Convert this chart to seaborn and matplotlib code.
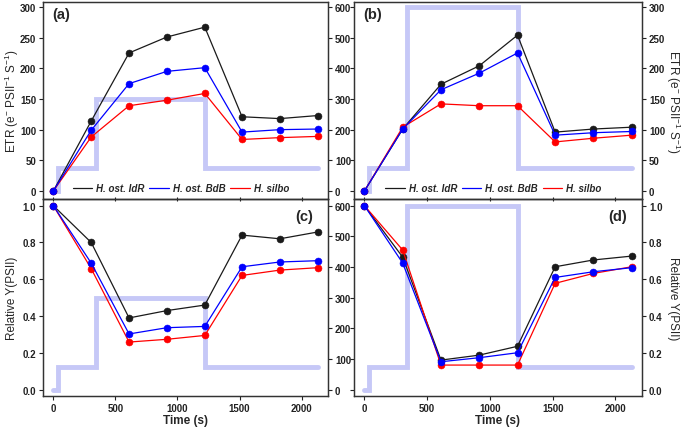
import matplotlib
matplotlib.use("Agg")
import matplotlib.pyplot as plt
from matplotlib.lines import Line2D
import seaborn as sns
import pandas as pd

# sampling times (s)
time = [0, 305, 610, 915, 1220, 1520, 1825, 2130]

# ETR, panels (a) and (b)
etr_a_idr = [0, 114, 225, 251, 267, 121, 118, 123]
etr_a_bdb = [0, 99, 175, 195, 201, 96, 100, 101]
etr_a_silbo = [0, 88, 139, 148, 159, 84, 87, 89]
etr_b_idr = [0, 101, 174, 204, 254, 96, 101, 104]
etr_b_bdb = [0, 101, 165, 192, 225, 91, 95, 97]
etr_b_silbo = [0, 104, 142, 139, 139, 80, 86, 91]

# relative Y(PSII), panels (c) and (d)
y_c_idr = [1.0, 0.80, 0.39, 0.43, 0.46, 0.84, 0.82, 0.857]
y_c_bdb = [1.0, 0.688, 0.303, 0.337, 0.344, 0.668, 0.694, 0.701]
y_c_silbo = [1.0, 0.658, 0.259, 0.274, 0.295, 0.621, 0.65, 0.663]
y_d_idr = [1.0, 0.72, 0.161, 0.188, 0.236, 0.668, 0.705, 0.726]
y_d_bdb = [1.0, 0.688, 0.152, 0.174, 0.201, 0.61, 0.641, 0.663]
y_d_silbo = [1.0, 0.759, 0.134, 0.134, 0.134, 0.578, 0.632, 0.668]

# light protocol (steps)
light_t = [0, 40, 340, 1225, 2130]
light_low = [0, 75, 300, 75, 75]
light_high = [0, 75, 600, 75, 75]

names = ["H. ost. IdR", "H. ost. BdB", "H. silbo"]
colors = {"H. ost. IdR": "#1a1a1a", "H. ost. BdB": "#0000ff", "H. silbo": "#ff0000"}
zorders = {"H. ost. IdR": 3, "H. ost. BdB": 5, "H. silbo": 4}

sns.set_style("ticks")
plt.rcParams['font.family'] = ['Liberation Sans', 'DejaVu Sans']
plt.rcParams['mathtext.fontset'] = 'custom'
plt.rcParams['mathtext.rm'] = 'Liberation Sans'

fig = plt.figure(figsize=(6.85, 4.31), dpi=100)

panels = [
    # label, rect, series, light, data side, is top
    ("(a)", [0.0628, 0.536, 0.416, 0.457], [etr_a_idr, etr_a_bdb, etr_a_silbo], light_low, "left", True),
    ("(b)", [0.5168, 0.536, 0.4204, 0.457], [etr_b_idr, etr_b_bdb, etr_b_silbo], light_high, "right", True),
    ("(c)", [0.0628, 0.0789, 0.416, 0.457], [y_c_idr, y_c_bdb, y_c_silbo], light_low, "left", False),
    ("(d)", [0.5168, 0.0789, 0.4204, 0.457], [y_d_idr, y_d_bdb, y_d_silbo], light_high, "right", False),
]

for label, rect, series, light, side, top in panels:
    ax = fig.add_axes(rect)
    lax = ax.twinx()
    ax.set_zorder(lax.get_zorder() + 1)
    ax.patch.set_visible(False)

    # data axis on the requested side
    if side == "right":
        ax.yaxis.tick_right()
        ax.yaxis.set_label_position("right")
        lax.yaxis.tick_left()
        lax.yaxis.set_label_position("left")

    # light steps
    lax.step(light_t, light, where="post", color="#c6c8f7", lw=3.5,
             solid_capstyle="round", solid_joinstyle="miter")
    lax.set_ylim(-26, 616) if top else lax.set_ylim(-20.5, 622)
    lax.set_yticks([0, 100, 200, 300, 400, 500, 600])

    df = pd.DataFrame({"time": time})
    for name, vals in zip(names, series):
        df[name] = vals
    long = df.melt(id_vars="time", var_name="species", value_name="val")
    for name in names:
        sub = long[long["species"] == name]
        sns.lineplot(data=sub, x="time", y="val", color=colors[name], marker="o",
                     markersize=5, markeredgewidth=0.4, markeredgecolor=colors[name],
                     lw=0.9, ax=ax, zorder=zorders[name], legend=False)

    ax.set_xlim(-83, 2212)
    ax.set_xticks([0, 500, 1000, 1500, 2000])
    if top:
        ax.set_ylim(-13, 308)
        ax.set_yticks([0, 50, 100, 150, 200, 250, 300])
        ax.set_ylabel("ETR (e$^{-}$ PSII$^{-1}$ S$^{-1}$)", fontsize=8.5)
        ax.set_xlabel("")
        ax.set_xticklabels([])
        ax.tick_params(axis="x", direction="inout", length=4)
        handles = [Line2D([], [], color=colors[n], lw=0.9) for n in names]
        ax.legend(handles, names, loc="center", bbox_to_anchor=(0.484, 0.056), ncol=3,
                  frameon=False, handlelength=2.0, columnspacing=0.5, handletextpad=0.4,
                  prop=dict(size=7, weight="bold", style="italic", family="Liberation Sans"))
    else:
        ax.set_ylim(-0.034, 1.036)
        ax.set_yticks([0, 0.2, 0.4, 0.6, 0.8, 1.0])
        ax.set_ylabel("Relative Y(PSII)", fontsize=8.5)
        ax.set_xlabel("Time (s)", fontsize=8.5, fontweight="bold", labelpad=1)
        for t in ax.get_xticklabels():
            t.set_fontsize(7)
            t.set_fontweight("bold")
    ax.set_yticklabels([f"{v:g}" if top else f"{v:.1f}" for v in ax.get_yticks()])
    if side == "right":
        ax.yaxis.label.set_rotation(270)
        ax.yaxis.label.set_ha("center")
        ax.yaxis.label.set_va("center")
        ax.yaxis.set_label_coords(1.108, 0.5)
    else:
        ax.yaxis.label.set_ha("center")
        ax.yaxis.label.set_va("center")
        ax.yaxis.set_label_coords(-0.109, 0.5)

    for t in ax.get_yticklabels():
        t.set_fontsize(7)
        t.set_fontweight("bold")
    if side == "left":
        for t in lax.get_yticklabels():
            t.set_fontsize(7)
            t.set_fontweight("bold")
    else:
        lax.set_yticklabels([])

    for a in (ax, lax):
        a.tick_params(length=3, width=0.8, pad=2, colors="#222222")
        for s in a.spines.values():
            s.set_linewidth(0.9)
            s.set_color("#333333")
            s.set_visible(True)
    lax.set_xlim(ax.get_xlim())

    if label in ("(a)", "(b)"):
        ax.text(0.065, 0.94, label, transform=ax.transAxes, fontsize=10.5,
                fontweight="bold", ha="center", va="center")
    else:
        ax.text(0.915, 0.912, label, transform=ax.transAxes, fontsize=10.5,
                fontweight="bold", ha="center", va="center")

fig.savefig("out.png", dpi=100)
